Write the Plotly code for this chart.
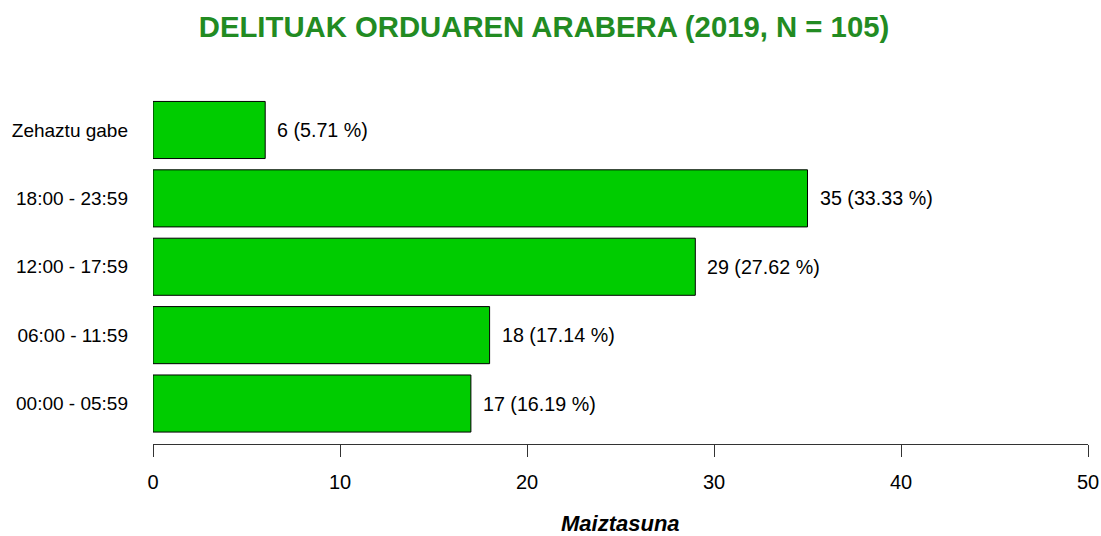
import plotly.graph_objects as go

categories = ["00:00 - 05:59", "06:00 - 11:59", "12:00 - 17:59", "18:00 - 23:59", "Zehaztu gabe"]
counts = [17, 18, 29, 35, 6]
percents = [16.19, 17.14, 27.62, 33.33, 5.71]
x_ticks = [0, 10, 20, 30, 40, 50]

FONT = "Liberation Sans, Arial, Helvetica, sans-serif"
positions = list(range(len(categories)))

fig = go.Figure()
fig.add_trace(go.Bar(
    x=counts, y=positions, orientation="h", width=0.835,
    marker=dict(color="#00CC00", line=dict(color="black", width=1)),
    hoverinfo="skip", showlegend=False,
))

for c, p, pos in zip(counts, percents, positions):
    fig.add_annotation(x=c, y=pos, xref="x", yref="y", text=f"{c} ({p:.2f} %)",
                       showarrow=False, xanchor="left", yanchor="middle", xshift=10,
                       font=dict(family=FONT, size=19.7, color="black"))

fig.add_annotation(x=0.5, y=-0.222, xref="paper", yref="paper", text="<b><i>Maiztasuna</i></b>",
                   showarrow=False, xanchor="center", yanchor="middle",
                   font=dict(family=FONT, size=22, color="black"))

fig.update_layout(
    width=1101, height=536,
    margin=dict(l=153, r=13, t=88, b=92, autoexpand=False),
    paper_bgcolor="white", plot_bgcolor="white",
    title=dict(text="<b>DELITUAK ORDUAREN ARABERA (2019, N = 105)</b>",
               x=544 / 1101, xanchor="center", xref="container",
               y=1 - 27 / 536, yanchor="middle", yref="container",
               font=dict(family=FONT, size=29.3, color="#228B22")),
    xaxis=dict(range=[0, 50], tickvals=x_ticks, ticktext=[str(t) for t in x_ticks],
               ticks="outside", ticklen=12, tickcolor="#333333", tickwidth=1,
               showline=True, linecolor="#333333", linewidth=1, showgrid=False, zeroline=False,
               ticklabelstandoff=8, automargin=False,
               tickfont=dict(family=FONT, size=20, color="black")),
    yaxis=dict(range=[-0.592, 4.614], tickvals=positions, ticktext=categories,
               ticks="", showline=False, showgrid=False, zeroline=False,
               ticklabelstandoff=24, automargin=False,
               tickfont=dict(family=FONT, size=19, color="black")),
)

fig.write_html("out.html", config={"displayModeBar": False},
               post_script="document.body.style.margin='0';")
